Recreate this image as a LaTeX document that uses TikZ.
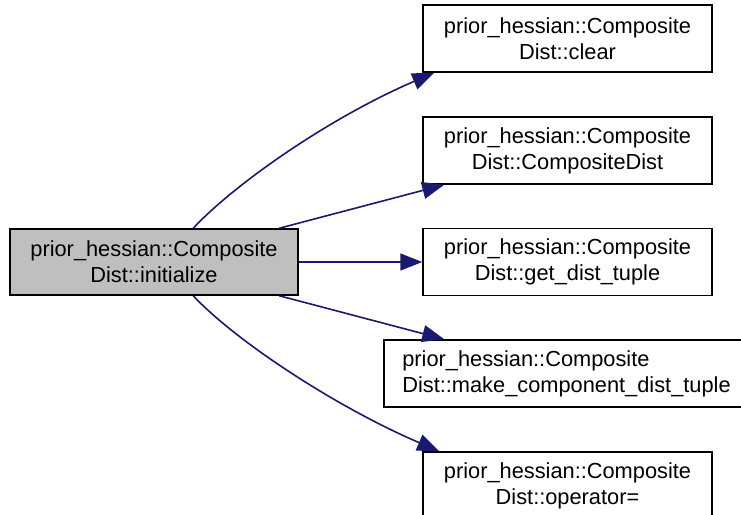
\documentclass[tikz,border=0pt]{standalone}
\usepackage{fontspec}
\setmainfont{Liberation Sans}
\usepackage{tikz}
\usetikzlibrary{arrows.meta,calc}
\definecolor{callblue}{RGB}{25,25,112}
\definecolor{callergray}{RGB}{191,191,191}
\tikzset{
    fnbox/.style={draw,line width=1.5pt,align=center,inner sep=0pt,minimum height=67pt,font=\fontsize{21.8}{26}\selectfont},
    callee/.style={fnbox,minimum width=289pt},
    call/.style={-{Triangle[length=22pt,width=17pt]},line width=1.6pt,draw=callblue}
}
\begin{document}
\begin{tikzpicture}[x=1pt,y=-1pt]
    \useasboundingbox (0,0) rectangle (741,514);
    % caller
    \node[fnbox,fill=callergray,minimum width=288pt,minimum height=66pt] (init) at (154,262) {prior\_hessian::Composite\\Dist::initialize};

    % callees
    \node[callee] (clear) at (567.5,38.5) {prior\_hessian::Composite\\Dist::clear};
    \node[callee] (ctor) at (567.5,150.5) {prior\_hessian::Composite\\Dist::CompositeDist};
    \node[callee] (tuple) at (567.5,262) {prior\_hessian::Composite\\Dist::get\_dist\_tuple};
    \node[fnbox,align=left,minimum width=365pt] (make) at (566.5,373.5) {prior\_hessian::Composite\\Dist::make\_component\_dist\_tuple};
    \node[callee] (op) at (567.5,485.5) {prior\_hessian::Composite\\Dist::operator=};

    % calls
    \draw[call] ($(init.north west)+(184,0)$) .. controls +(41,-44) and +(-105,45) .. ($(clear.south west)+(12,0)$);
    \draw[call] ($(init.north west)+(270,0)$) -- ($(ctor.south west)+(22,0)$);
    \draw[call] (init.east) -- (tuple.west);
    \draw[call] ($(init.south west)+(270,0)$) -- ($(make.north west)+(61,0)$);
    \draw[call] ($(init.south west)+(184,0)$) .. controls +(41,44) and +(-105,-45) .. ($(op.north west)+(17,0)$);
\end{tikzpicture}
\end{document}
